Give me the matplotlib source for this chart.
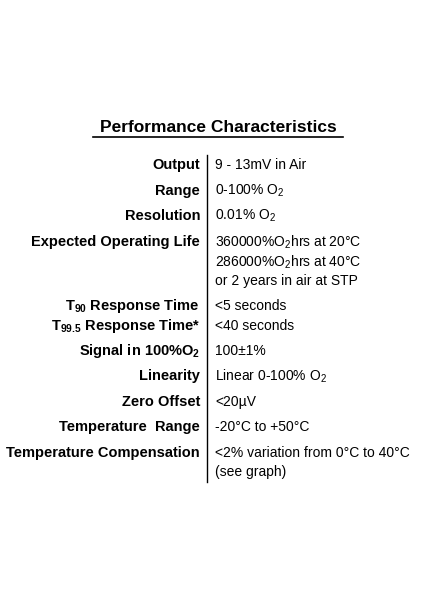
import matplotlib
matplotlib.use("Agg")
import matplotlib.pyplot as plt

title = "Performance Characteristics"
labels = ["Output", "Range", "Resolution", "Expected Operating Life",
          r"T$_\mathbf{90}$ Response Time", r"T$_\mathbf{99.5}$ Response Time*",
          r"Signal in 100%O$_\mathbf{2}$", "Linearity", "Zero Offset",
          "Temperature  Range", "Temperature Compensation"]
label_y = [165, 191, 216, 242, 306, 326, 351, 376, 402, 427, 453]
values = ["9 - 13mV in Air", r"0-100% O$_2$", r"0.01% O$_2$",
          r"360000%O$_2$hrs at 20°C", r"286000%O$_2$hrs at 40°C", "or 2 years in air at STP",
          "<5 seconds", "<40 seconds", "100±1%", r"Linear 0-100% O$_2$", "<20µV",
          "-20°C to +50°C", "<2% variation from 0°C to 40°C", "(see graph)"]
value_y = [165, 191, 216, 242, 262, 281, 306, 326, 351, 376, 402, 427, 453, 472]

plt.rcParams['font.family'] = ['Liberation Sans', 'DejaVu Sans']
plt.rcParams['mathtext.fontset'] = 'custom'
plt.rcParams['mathtext.rm'] = 'Liberation Sans'
plt.rcParams['mathtext.bf'] = 'Liberation Sans:bold'

W, H = 424, 600
fig = plt.figure(figsize=(4.24, 6), dpi=100)
fig.patch.set_facecolor("white")
ax = fig.add_axes([0, 0, 1, 1])
ax.set_xlim(0, W); ax.set_ylim(H, 0); ax.axis("off")

ax.text(218, 128, title, ha="center", va="center", fontsize=12.5, fontweight="bold")
ax.plot([93, 343], [137, 137], color="black", lw=1.2)
ax.plot([207, 207], [155, 482], color="black", lw=1)
for t, y in zip(labels, label_y):
    ax.text(200, y, t, ha="right", va="center", fontsize=10.5, fontweight="bold")
for t, y in zip(values, value_y):
    ax.text(215, y, t, ha="left", va="center", fontsize=10)
fig.savefig("out.png", dpi=100, facecolor="white")
